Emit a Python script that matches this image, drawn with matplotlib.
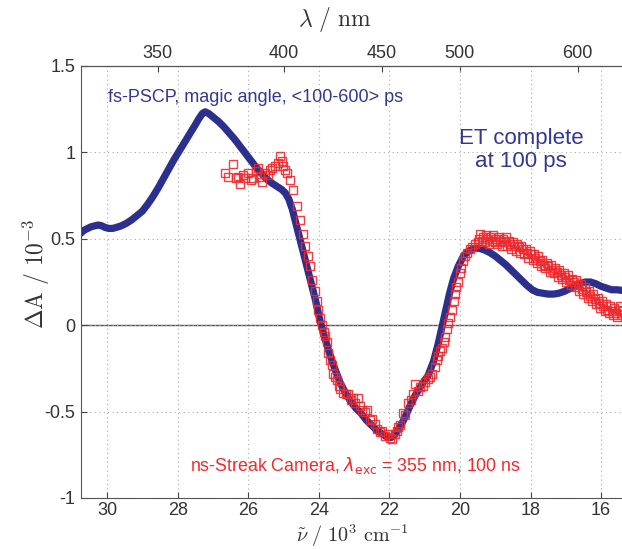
import matplotlib
matplotlib.use('Agg')
import matplotlib.pyplot as plt
import numpy as np

plt.rcParams['font.family'] = ['Liberation Sans', 'DejaVu Sans']
plt.rcParams['mathtext.fontset'] = 'cm'

# fs-PSCP spectrum (wavenumber in 10^3 cm^-1, dA in 10^-3)
fs_nu = [30.76, 30.65, 30.55, 30.45, 30.35, 30.25, 30.15, 30.05, 29.95, 29.85,
         29.75, 29.60, 29.45, 29.30, 29.15, 29.00, 28.85, 28.70, 28.55, 28.40,
         28.25, 28.10, 27.95, 27.80, 27.65, 27.50, 27.40, 27.30, 27.22, 27.12,
         27.00, 26.85, 26.70, 26.55, 26.40, 26.25, 26.10, 25.95, 25.80, 25.65,
         25.50, 25.35, 25.20, 25.05, 24.95, 24.85, 24.75, 24.65, 24.55, 24.45,
         24.35, 24.25, 24.10, 23.97, 23.85, 23.70, 23.55, 23.40, 23.25, 23.10,
         22.95, 22.80, 22.65, 22.50, 22.35, 22.20, 22.08, 21.95, 21.85, 21.70,
         21.55, 21.40, 21.25, 21.10, 20.90, 20.75, 20.62, 20.52, 20.42, 20.30,
         20.18, 20.05, 19.90, 19.75, 19.60, 19.45, 19.30, 19.15, 19.00, 18.85,
         18.70, 18.55, 18.40, 18.25, 18.10, 17.95, 17.80, 17.65, 17.50, 17.35,
         17.20, 17.05, 16.90, 16.75, 16.60, 16.45, 16.30, 16.15, 16.00, 15.85,
         15.70, 15.55, 15.35]
fs_dA = [0.53, 0.55, 0.56, 0.57, 0.575, 0.58, 0.575, 0.565, 0.56, 0.56,
         0.565, 0.575, 0.59, 0.61, 0.635, 0.66, 0.70, 0.745, 0.795, 0.85,
         0.905, 0.96, 1.01, 1.06, 1.11, 1.16, 1.195, 1.225, 1.235, 1.225,
         1.205, 1.18, 1.15, 1.115, 1.08, 1.04, 1.00, 0.96, 0.92, 0.885,
         0.85, 0.825, 0.805, 0.785, 0.765, 0.73, 0.67, 0.59, 0.51, 0.43,
         0.35, 0.27, 0.15, 0.03, -0.06, -0.16, -0.25, -0.33, -0.39, -0.44,
         -0.48, -0.51, -0.55, -0.58, -0.61, -0.63, -0.645, -0.65, -0.635, -0.59,
         -0.53, -0.46, -0.40, -0.35, -0.29, -0.21, -0.11, -0.02, 0.07, 0.18,
         0.27, 0.34, 0.40, 0.43, 0.445, 0.445, 0.435, 0.42, 0.40, 0.375,
         0.35, 0.32, 0.29, 0.26, 0.23, 0.205, 0.19, 0.185, 0.18, 0.18,
         0.185, 0.195, 0.21, 0.225, 0.24, 0.25, 0.25, 0.24, 0.225, 0.215,
         0.205, 0.205, 0.20]

# ns-Streak camera spectrum
ns_nu = [26.66, 26.57, 26.43, 26.35, 26.29, 26.23, 26.15, 26.08, 26.00, 25.93,
         25.86, 25.79, 25.72, 25.66, 25.61, 25.52, 25.45, 25.38, 25.33, 25.24,
         25.16, 25.10, 25.05, 25.01, 24.95, 24.90, 24.82, 24.73, 24.62, 24.53,
         24.45, 24.39, 24.31, 24.25, 24.19, 24.11, 24.05, 24.02, 23.96, 23.91,
         23.86, 23.82, 23.77, 23.74, 23.68, 23.63, 23.60, 23.54, 23.48, 23.43,
         23.40, 23.31, 23.24, 23.17, 23.10, 23.03, 22.96, 22.89, 22.84, 22.78,
         22.70, 22.63, 22.55, 22.48, 22.41, 22.34, 22.27, 22.20, 22.12, 22.05,
         21.98, 21.92, 21.84, 21.78, 21.76, 21.70, 21.61, 21.55, 21.47, 21.40,
         21.33, 21.27, 21.19, 21.12, 21.05, 20.99, 20.91, 20.85, 20.79, 20.71,
         20.66, 20.62, 20.56, 20.51, 20.46, 20.42, 20.37, 20.33, 20.28, 20.23,
         20.18, 20.14, 20.10, 20.06, 20.01, 19.96, 19.92, 19.86, 19.80, 19.72,
         19.65, 19.58, 19.50, 19.46,
         19.42, 19.38, 19.34, 19.30, 19.26, 19.22, 19.18, 19.14, 19.10, 19.06,
         19.02, 18.98, 18.94, 18.90, 18.86, 18.82, 18.78, 18.74, 18.70, 18.66,
         18.62, 18.58, 18.54, 18.50, 18.46, 18.42, 18.38, 18.34, 18.30, 18.26,
         18.22, 18.18, 18.14, 18.10, 18.06, 18.02, 17.98, 17.94, 17.90, 17.86,
         17.82, 17.78, 17.74, 17.70, 17.66, 17.62, 17.58, 17.54, 17.50, 17.46,
         17.42, 17.38, 17.34, 17.30, 17.26, 17.22, 17.18, 17.14, 17.10, 17.06,
         17.02, 16.98, 16.94, 16.90, 16.86, 16.82, 16.78, 16.74, 16.70, 16.66,
         16.62, 16.58, 16.54, 16.50, 16.46, 16.42, 16.38, 16.34, 16.30, 16.26,
         16.22, 16.18, 16.14, 16.10, 16.06, 16.02, 15.98, 15.94, 15.90, 15.86,
         15.82, 15.78, 15.74, 15.70, 15.66, 15.62, 15.58, 15.54, 15.50, 15.46,
         15.42, 15.38]
ns_dA = [0.88, 0.86, 0.93, 0.85, 0.86, 0.82, 0.87, 0.85, 0.88, 0.84,
         0.85, 0.89, 0.91, 0.86, 0.83, 0.88, 0.87, 0.90, 0.91, 0.92,
         0.94, 0.98, 0.95, 0.92, 0.90, 0.88, 0.84, 0.78, 0.69, 0.61,
         0.53, 0.46, 0.40, 0.34, 0.26, 0.20, 0.14, 0.09, 0.04, 0.00,
         -0.04, -0.06, -0.10, -0.16, -0.20, -0.23, -0.28, -0.30, -0.32, -0.35,
         -0.37, -0.39, -0.40, -0.40, -0.43, -0.42, -0.45, -0.42, -0.47, -0.49,
         -0.50, -0.49, -0.55, -0.54, -0.57, -0.60, -0.62, -0.61, -0.64, -0.63,
         -0.65, -0.66, -0.63, -0.61, -0.59, -0.58, -0.51, -0.52, -0.45, -0.43,
         -0.40, -0.34, -0.38, -0.36, -0.35, -0.33, -0.31, -0.30, -0.28, -0.24,
         -0.20, -0.18, -0.15, -0.13, -0.10, -0.07, -0.02, 0.01, 0.05, 0.09,
         0.14, 0.18, 0.22, 0.25, 0.30, 0.33, 0.37, 0.40, 0.42, 0.44,
         0.45, 0.47, 0.48, 0.50,
         0.53, 0.49, 0.51, 0.48, 0.52, 0.50, 0.47, 0.51, 0.49, 0.52,
         0.48, 0.50, 0.47, 0.51, 0.49, 0.46, 0.50, 0.48, 0.51, 0.46,
         0.49, 0.47, 0.44, 0.48, 0.46, 0.43, 0.47, 0.45, 0.42, 0.46,
         0.44, 0.41, 0.44, 0.42, 0.39, 0.43, 0.41, 0.38, 0.41, 0.39,
         0.36, 0.40, 0.37, 0.34, 0.38, 0.35, 0.33, 0.36, 0.34, 0.31,
         0.35, 0.32, 0.30, 0.33, 0.31, 0.28, 0.32, 0.29, 0.27, 0.30,
         0.28, 0.25, 0.29, 0.26, 0.23, 0.27, 0.25, 0.22, 0.26, 0.23,
         0.20, 0.24, 0.21, 0.18, 0.22, 0.19, 0.16, 0.20, 0.17, 0.14,
         0.18, 0.15, 0.12, 0.16, 0.13, 0.10, 0.14, 0.11, 0.08, 0.12,
         0.09, 0.07, 0.11, 0.08, 0.06, 0.10, 0.07, 0.05, 0.09, 0.11,
         0.06, 0.08]

x_ticks = [30, 28, 26, 24, 22, 20, 18, 16]
y_ticks = [-1, -0.5, 0, 0.5, 1, 1.5]
y_ticklabels = ['-1', '-0.5', '0', '0.5', '1', '1.5']
lam_ticks = [350, 400, 450, 500, 600]

BLUE = '#2b2f8e'
RED = '#ee2a2e'
TEXT_BLUE = '#34378f'
DARK = '#333333'

fig = plt.figure(figsize=(6.22, 5.49), dpi=100)
ax = fig.add_axes([81 / 622, 51 / 549, 543 / 622, 432 / 549])

ax.axhline(0, color='#555555', lw=1.0, zorder=1)
ax.plot(fs_nu, fs_dA, color=BLUE, lw=5.2, solid_capstyle='round',
        solid_joinstyle='round', zorder=2)
ax.plot(ns_nu, ns_dA, ls='none', marker='s', ms=6.2, mfc='none',
        mec=RED, mew=1.0, alpha=0.9, zorder=3)

ax.set_xlim(30.74, 15.35)
ax.set_ylim(-1, 1.5)
ax.set_xticks(x_ticks)
ax.set_yticks(y_ticks)
ax.set_yticklabels(y_ticklabels)
ax.tick_params(direction='in', labelsize=13, length=4, color='#444444',
               labelcolor=DARK)
ax.tick_params(axis='x', pad=3)
ax.tick_params(axis='y', pad=4)
ax.grid(True, ls=(0, (1, 3)), color='#aaaaaa', lw=0.8)
for s in ax.spines.values():
    s.set_color('#555555')

# top wavelength axis
conv = lambda v: 1e4 / np.asarray(v, dtype=float)
top = ax.secondary_xaxis('top', functions=(conv, conv))
top.set_xticks(lam_ticks)
top.tick_params(direction='in', labelsize=13, length=4, color='#444444',
                labelcolor=DARK, pad=3)

# axis labels
fig.text(352 / 622, 0.0, r'$\tilde{\nu}\ /\ 10^3\ \mathrm{cm}^{-1}$',
         fontsize=14.5, color=DARK, ha='center', va='bottom')
fig.text(36 / 622, 275 / 549, r'$\Delta\mathrm{A}\ /\ 10^{-3}$',
         fontsize=17, color=DARK, ha='center', va='center', rotation=90)
fig.text(335 / 622, 529 / 549, r'$\lambda\ /\ \mathrm{nm}$',
         fontsize=17, color=DARK, ha='center', va='center')

# annotations
fig.text(108 / 622, 452 / 549, 'fs-PSCP, magic angle, <100-600> ps',
         fontsize=13, color=TEXT_BLUE, ha='left', va='center')
ax.text(0.81, 0.805, 'ET complete\nat 100 ps', transform=ax.transAxes,
        fontsize=16, color=TEXT_BLUE, ha='center', va='center',
        linespacing=1.1)
ax.text(0.505, 0.076, r'ns-Streak Camera, $\lambda_{\mathrm{exc}}$ = 355 nm, 100 ns',
        transform=ax.transAxes, fontsize=12.8, color=RED, ha='center',
        va='center', math_fontfamily='dejavusans')

fig.savefig('out.png', dpi=100)
